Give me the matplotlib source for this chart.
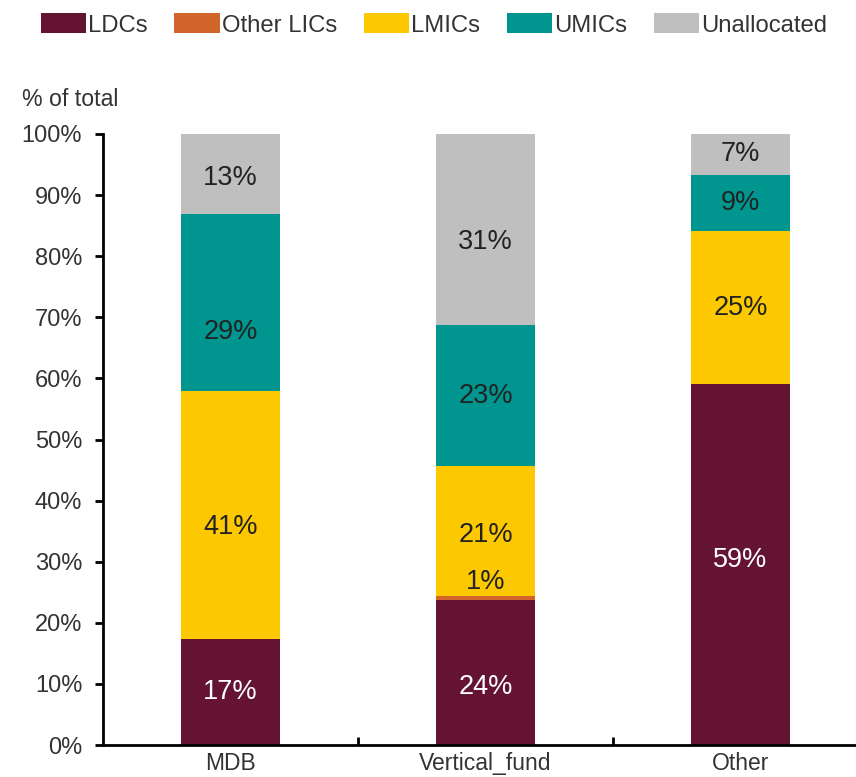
import matplotlib
matplotlib.use("Agg")
import matplotlib.pyplot as plt
from matplotlib.patches import Patch
import numpy as np

plt.rcParams['font.family'] = ['Liberation Sans', 'DejaVu Sans']

categories = ["MDB", "Vertical_fund", "Other"]
series_names = ["LDCs", "Other LICs", "LMICs", "UMICs", "Unallocated"]
ldcs = [17.4, 23.8, 59.1]
other_lics = [0.0, 0.6, 0.0]
lmics = [40.6, 21.3, 25.0]
umics = [28.9, 23.0, 9.2]
unallocated = [13.1, 31.3, 6.7]
y_ticks = [0, 10, 20, 30, 40, 50, 60, 70, 80, 90, 100]

series = [ldcs, other_lics, lmics, umics, unallocated]
colors = ["#641432", "#d2652a", "#fcc800", "#00968f", "#bfbfbf"]
text_colors = ["white", "#222222", "#222222", "#222222", "#222222"]

# per-label vertical nudges (percentage points) for readability
label_nudge = {
    (0, 2): -2.0, (0, 3): -4.8, (0, 4): -0.7,
    (1, 0): -2.4, (1, 1): 2.6, (1, 2): -0.6, (1, 4): -2.1,
    (2, 0): 0.8,
}

fig = plt.figure(figsize=(8.56, 7.77), dpi=100)
ax = fig.add_axes([103 / 856, 1 - 745 / 777, 1 - 103 / 856, (745 - 134) / 777])

x = np.arange(len(categories))
bottom = np.zeros(len(categories))
for si, (vals, col) in enumerate(zip(series, colors)):
    vals = np.array(vals)
    ax.bar(x, vals, width=0.39, bottom=bottom, color=col, linewidth=0)
    for ci, v in enumerate(vals):
        if v > 0:
            yc = bottom[ci] + v / 2 + label_nudge.get((ci, si), 0.0)
            ax.text(x[ci], yc, f"{v:.0f}%", ha="center", va="center",
                    fontsize=19.5, color=text_colors[si])
    bottom += vals

ax.set_ylim(0, 100)
ax.set_xlim(-0.5, -0.5 + (856 - 103) / 255)
ax.set_yticks(y_ticks)
ax.set_yticklabels([f"{t}%" for t in y_ticks], fontsize=17, color="#333333")
ax.set_xticks(x)
ax.set_xticklabels(categories, fontsize=16.5, color="#333333")
ax.tick_params(axis="x", length=0, pad=5)
ax.tick_params(axis="y", length=6, width=2, direction="out", pad=9)
# category separators on the x axis
ax.set_xticks([0.5, 1.5], minor=True)
ax.tick_params(axis="x", which="minor", length=6, width=2, direction="in")

for s in ["top", "right"]:
    ax.spines[s].set_visible(False)
for s in ["left", "bottom"]:
    ax.spines[s].set_linewidth(2)
    ax.spines[s].set_color("black")

fig.text(22 / 856, 1 - 100 / 777, "% of total", fontsize=16.7, color="#333333",
         ha="left", va="center")

handles = [Patch(facecolor=c, edgecolor="none") for c in colors]
fig.legend(handles, series_names, loc="center", bbox_to_anchor=(0.507, 1 - 25 / 777),
           ncol=5, frameon=False, fontsize=17.2, handlelength=1.9, handleheight=0.9,
           handletextpad=0.08, columnspacing=1.12, labelcolor="#333333")

fig.savefig("out.png", dpi=100)
